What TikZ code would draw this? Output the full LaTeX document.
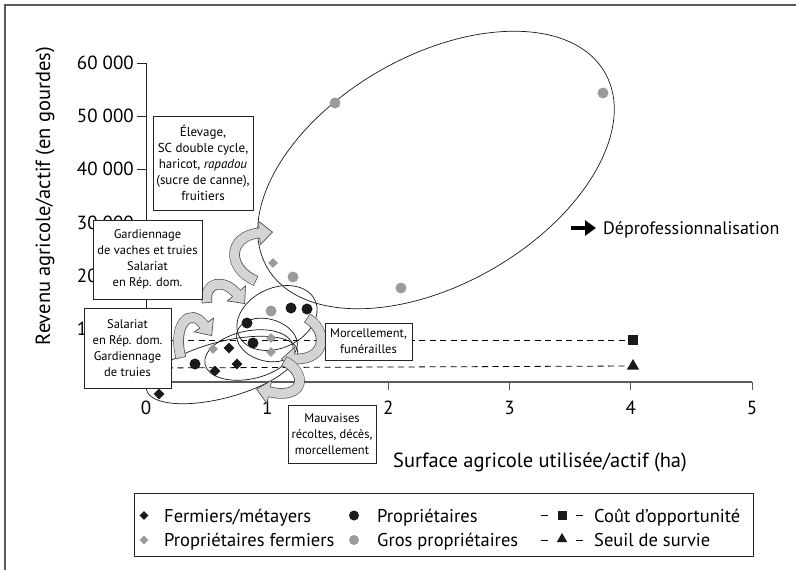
\documentclass[tikz,border=0pt]{standalone}
\usepackage{fontspec}
\setmainfont{PT Sans}
\usetikzlibrary{arrows.meta, shapes.geometric}

\definecolor{cadre}{HTML}{5A5A5A}
\definecolor{gris}{HTML}{9B9B9E}
\definecolor{flechefond}{HTML}{D3D4D6}
\definecolor{flechebord}{HTML}{505050}

\tikzset{
  gros/.style={circle, fill=gris, inner sep=0pt, minimum size=11pt},
  proprio/.style={circle, fill=black!90, inner sep=0pt, minimum size=11pt},
  fermier/.style={diamond, fill=black!90, inner sep=0pt, minimum size=11pt},
  propfermier/.style={diamond, fill=gris, inner sep=0pt, minimum size=10pt},
  zone/.style={draw=black!90, line width=0.7pt},
  tiret/.style={dash pattern=on 6pt off 4.5pt, line width=0.8pt},
  encadre/.style={draw=black!85, fill=white, line width=0.8pt, align=center, inner sep=1.5pt, font=\fontsize{12.5}{16}\selectfont},
  grand/.style={font=\fontsize{19}{22}\selectfont},
  legtxt/.style={font=\fontsize{18.5}{22}\selectfont, anchor=base west, inner sep=0pt},
  bande/.style={flechebord, line width=10.6pt, -{Triangle[length=14pt, width=25pt, line width=0.7pt, fill=flechefond]}},
  bandefond/.style={flechefond, line width=9.2pt, shorten <=0.7pt, shorten >=12.5pt}
}
\newcommand{\flecheplate}[1]{%
  \draw[bande] #1;
  \draw[bandefond] #1;}

\begin{document}
\begin{tikzpicture}[x=1pt, y=-1pt]
  \useasboundingbox (0,0) rectangle (796,570);
  \draw[cadre, line width=1.3pt] (5,5) rectangle (805,580);

  % axes
  \draw[black!85, line width=0.9pt] (146,63) -- (146,382);
  \draw[cadre, line width=1.2pt] (146,382) -- (752,382);
  \foreach \v/\lab in {0/0, 1/10 000, 2/20 000, 3/30 000, 4/40 000, 5/50 000, 6/60 000} {
    \draw[black!85, line width=0.9pt] (137,{382-53.17*\v}) -- (146,{382-53.17*\v});
    \node[grand, anchor=east, inner sep=0pt] (ytick\v) at (134,{382-53.17*\v}) {\lab};
  }
  \foreach \v in {0,...,5} {
    \draw[cadre, line width=0.9pt] ({146+121.2*\v},382) -- ({146+121.2*\v},390);
    \node[grand, inner sep=0pt] (xtick\v) at ({146+121.2*\v},408) {\v};
  }
  \node[rotate=90, font=\fontsize{20.5}{22}\selectfont] (ylabel) at (45,196) {Revenu agricole/actif (en gourdes)};
  \node[font=\fontsize{20.5}{22}\selectfont] (xlabel) at (540,462) {Surface agricole utilisée/actif (ha)};

  % seuils
  \coordinate (coutdebut) at (146,340);
  \node[fill=black!90, inner sep=0pt, minimum size=9.5pt] (cout) at (633,340) {};
  \draw[tiret] (coutdebut) -- (cout);
  \coordinate (survdebut) at (146,368);
  \node[regular polygon, regular polygon sides=3, fill=black!90, inner sep=0pt, minimum size=14pt] (survie) at (633,366) {};
  \draw[tiret] (survdebut) -- (survie);

  % groupes
  \draw[zone, rotate around={30:(436,170)}] (436,170) ellipse [x radius=195pt, y radius=114pt];
  \draw[zone, rotate around={25:(277,318)}] (277,318) ellipse [x radius=42pt, y radius=30pt];
  \draw[zone, rotate around={-15:(267,340)}] (267,340) ellipse [x radius=31pt, y radius=21pt];
  \draw[zone, rotate around={12:(249,355)}] (249,355) ellipse [x radius=45pt, y radius=24pt];
  \draw[zone, rotate around={15:(222,370)}] (222,370) ellipse [x radius=78pt, y radius=28pt];

  % trajectoires
  \flecheplate{(256,281) .. controls (226,268) and (228,236) .. (259,233) -- (273,232)}
  \flecheplate{(207,303) .. controls (204,281) and (224,279) .. (236,293) -- (245,304)}
  \flecheplate{(181,358) .. controls (172,325) and (190,306) .. (204,325) -- (212,336)}
  \flecheplate{(307,318) .. controls (328,330) and (327,360) .. (295,359) -- (281,359)}
  \flecheplate{(284,361) .. controls (307,372) and (306,400) .. (270,392) -- (256,389)}

  % exploitations
  \foreach \x/\y [count=\i] in {335/103, 603/93, 401/288, 293/277, 271/311}
    \node[gros] (gros\i) at (\x,\y) {};
  \foreach \x/\y [count=\i] in {273/263, 271/338, 271/352, 213/349}
    \node[propfermier] (propferm\i) at (\x,\y) {};
  \foreach \x/\y [count=\i] in {291/308, 307/309, 247/323, 253/343, 195/364}
    \node[proprio] (proprio\i) at (\x,\y) {};
  \foreach \x/\y [count=\i] in {229/348, 237/364, 215/371, 159/394}
    \node[fermier] (fermier\i) at (\x,\y) {};

  % encadres
  \node[encadre, minimum width=100pt, minimum height=94pt, font=\fontsize{13}{16}\selectfont] (elevage) at (203,163)
    {Élevage,\\SC double cycle,\\haricot, \textit{rapadou}\\(sucre de canne),\\fruitiers};
  \node[encadre, minimum width=109pt, minimum height=79pt] (gardien) at (147.5,259.5)
    {Gardiennage\\de vaches et truies\\Salariat\\en Rép. dom.};
  \node[encadre, minimum width=87pt, minimum height=80pt] (salariat) at (127.5,348)
    {Salariat\\en Rép. dom.\\Gardiennage\\de truies};
  \node[encadre, minimum width=87pt, minimum height=37pt] (morcel) at (368.5,341.5)
    {Morcellement,\\funérailles};
  \node[encadre, minimum width=88pt, minimum height=58pt] (mauvaises) at (332,434)
    {Mauvaises\\récoltes, décès,\\morcellement};

  % deprofessionnalisation
  \coordinate (deprodebut) at (571,228);
  \coordinate (deprofin) at (596,228);
  \draw[line width=4pt, -{Triangle[length=11pt, width=15pt]}] (deprodebut) -- (deprofin);
  \node[font=\fontsize{18}{22}\selectfont, anchor=base west, inner sep=0pt] (depro) at (603,234.5) {Déprofessionnalisation};

  % legende
  \node[draw=black!85, line width=0.8pt, minimum width=619pt, minimum height=63pt] (legende) at (443.5,524.5) {};
  \node[fermier, minimum size=9pt] (lfermier) at (144,515.5) {};
  \node[legtxt] (tfermier) at (164,522) {Fermiers/métayers};
  \node[propfermier, minimum size=9pt] (lpropferm) at (144,540) {};
  \node[legtxt] (tpropferm) at (164,546.5) {Propriétaires fermiers};
  \node[proprio, minimum size=10pt] (lproprio) at (354,515.5) {};
  \node[legtxt] (tproprio) at (377,522) {Propriétaires};
  \node[gros, minimum size=10pt] (lgros) at (354,540) {};
  \node[legtxt] (tgros) at (377,546.5) {Gros propriétaires};
  \coordinate (lcoutg) at (541,515.5);
  \coordinate (lcoutd) at (583,515.5);
  \draw[dash pattern=on 7pt off 28pt, line width=0.8pt] (lcoutg) -- (lcoutd);
  \node[fill=black!90, inner sep=0pt, minimum size=9pt] (lcout) at (562,515.5) {};
  \node[legtxt] (tcout) at (594,522) {Coût d’opportunité};
  \coordinate (lsurvg) at (541,540);
  \coordinate (lsurvd) at (583,540);
  \draw[dash pattern=on 7pt off 28pt, line width=0.8pt] (lsurvg) -- (lsurvd);
  \node[regular polygon, regular polygon sides=3, fill=black!90, inner sep=0pt, minimum size=12pt] (lsurvie) at (562,539) {};
  \node[legtxt] (tsurvie) at (594,546.5) {Seuil de survie};
\end{tikzpicture}
\end{document}
